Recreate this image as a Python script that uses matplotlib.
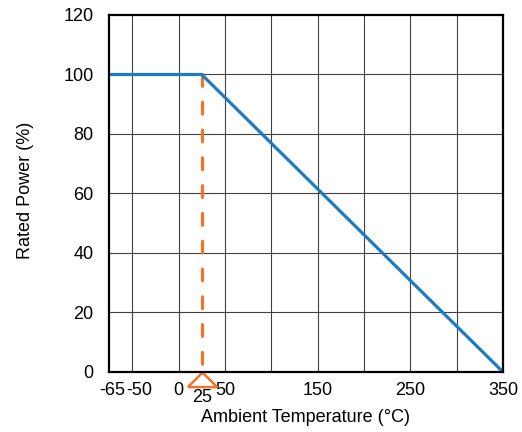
import matplotlib
matplotlib.use("Agg")
import matplotlib.pyplot as plt
import matplotlib.transforms as mtransforms

plt.rcParams['font.family'] = ['Liberation Sans', 'DejaVu Sans']

# Data
temps = [-75, 25, 350]
power = [100, 100, 0]
knee_temp = 25
knee_power = 100
xtick_values = [-65, -50, 0, 50, 150, 250, 350]
xtick_labels = ["-65", "-50", "0", "50", "150", "250", "350"]
ytick_values = [0, 20, 40, 60, 80, 100, 120]
x_grid = [-50, 0, 50, 100, 150, 200, 250, 300]

fig = plt.figure(figsize=(5.22, 4.32), dpi=100)
ax = fig.add_axes([0.2088, 0.1389, 0.7548, 0.8264])

ax.set_xlim(-75, 350)
ax.set_ylim(0, 120)

for gx in x_grid:
    ax.axvline(gx, color='#404040', lw=0.8, zorder=1)
for gy in ytick_values[1:-1]:
    ax.axhline(gy, color='#404040', lw=0.8, zorder=1)

ax.plot(temps, power, color='#1B7CC3', lw=2.3, zorder=3, solid_capstyle='butt')
ax.plot([knee_temp, knee_temp], [knee_power, 0], color='#F07527', lw=2.3,
        linestyle=(0, (3.7, 5.0)), dash_capstyle='round', zorder=2)
ax.plot([knee_temp], [0], marker=[(-1, -1), (1, -1), (0, 0), (-1, -1)],
        markersize=21, markerfacecolor='white', markeredgecolor='#F07527',
        markeredgewidth=1.8, clip_on=False, zorder=4, linestyle='none')

ax.set_xticks(xtick_values)
ax.set_xticklabels(xtick_labels)
ax.set_yticks(ytick_values)
ax.tick_params(axis='both', length=0, labelsize=13)
ax.tick_params(axis='x', pad=7)
ax.tick_params(axis='y', pad=11)

# nudge crowded labels apart
offsets = {0: -6, 1: 7}
for i, lab in enumerate(ax.get_xticklabels()):
    if i in offsets:
        lab.set_transform(lab.get_transform() +
                          mtransforms.ScaledTranslation(offsets[i] / 100, 0, fig.dpi_scale_trans))

ax.text(knee_temp, 0, "25", ha='center', va='top', fontsize=13, clip_on=False,
        transform=ax.transData + mtransforms.ScaledTranslation(0, -0.17, fig.dpi_scale_trans))

for s in ax.spines.values():
    s.set_linewidth(1.6)
    s.set_color('black')
    s.set_zorder(5)

ax.set_xlabel("Ambient Temperature (°C)", fontsize=13)
ax.set_ylabel("Rated Power (%)", fontsize=13)
ax.xaxis.set_label_coords(0.5, -0.105)
ax.yaxis.set_label_coords(-0.19, 0.51)

fig.savefig("out.png", dpi=100)
